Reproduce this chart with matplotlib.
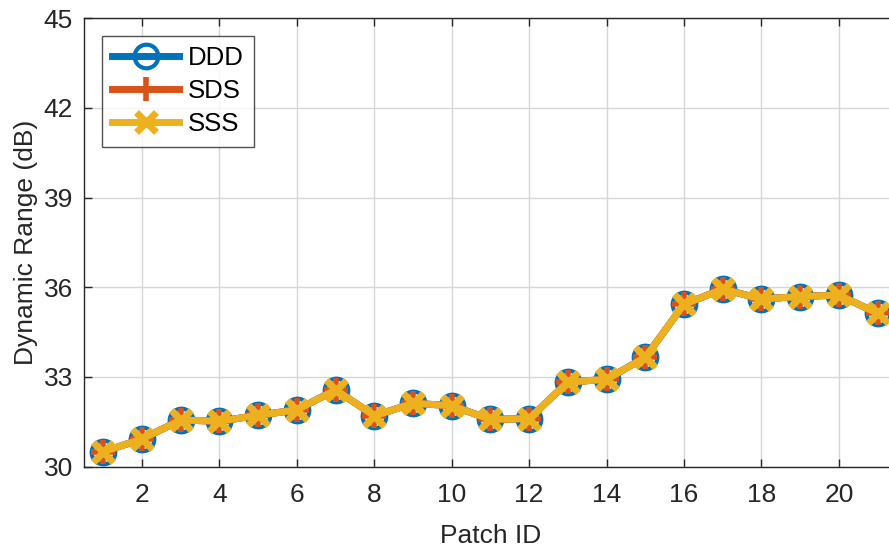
import matplotlib
matplotlib.use('Agg')
import matplotlib.pyplot as plt
import numpy as np

# patch numbers and dynamic range per scheme
patch_id = np.arange(1, 22)
ddd = [30.50, 30.93, 31.56, 31.52, 31.72, 31.90, 32.57, 31.70, 32.12, 32.04,
       31.58, 31.61, 32.83, 32.92, 33.66, 35.43, 35.94, 35.61, 35.69, 35.74, 35.13]
sds = list(ddd)
sss = list(ddd)

x_ticks = np.arange(2, 21, 2)
y_ticks = np.arange(30, 46, 3)

plt.rcParams['font.family'] = ['Liberation Sans', 'DejaVu Sans']
txt = '#262626'

fig = plt.figure(figsize=(8.89, 5.48), dpi=100)
ax = fig.add_axes([0.0945, 0.1484, 0.9144, 0.8184])

ax.plot(patch_id, ddd, color='#0072BD', lw=5, marker='o', ms=17,
        mfc='none', mec='#0072BD', mew=3, label='DDD')
ax.plot(patch_id, sds, color='#D95319', lw=5, marker='+', ms=17,
        mew=4, label='SDS')
ax.plot(patch_id, sss, color='#EDB120', lw=5, marker='x', ms=14,
        mew=5, label='SSS')

ax.set_xlim(0.5, 21.5)
ax.set_ylim(30, 45)
ax.set_xticks(x_ticks)
ax.set_yticks(y_ticks)

ax.grid(True, color='#d6d6d6', lw=1)
ax.set_axisbelow(True)
ax.tick_params(direction='in', length=6, width=1, colors=txt,
               labelsize=19, top=True, right=True)
ax.tick_params(axis='x', pad=12)
ax.tick_params(axis='y', pad=8)
for s in ax.spines.values():
    s.set_color(txt)
    s.set_linewidth(1)

ax.set_xlabel('Patch ID', fontsize=19, color=txt, labelpad=12)
ax.set_ylabel('Dynamic Range (dB)', fontsize=19, color=txt, labelpad=4)

leg = ax.legend(loc='upper left', fontsize=18.5, frameon=True, fancybox=False,
                edgecolor=txt, handlelength=2.6, borderaxespad=0.7,
                labelspacing=0.35, handletextpad=0.35, borderpad=0.4)
leg.get_frame().set_linewidth(1)
for t in leg.get_texts():
    t.set_color('black')

fig.savefig('out.png', dpi=100)
